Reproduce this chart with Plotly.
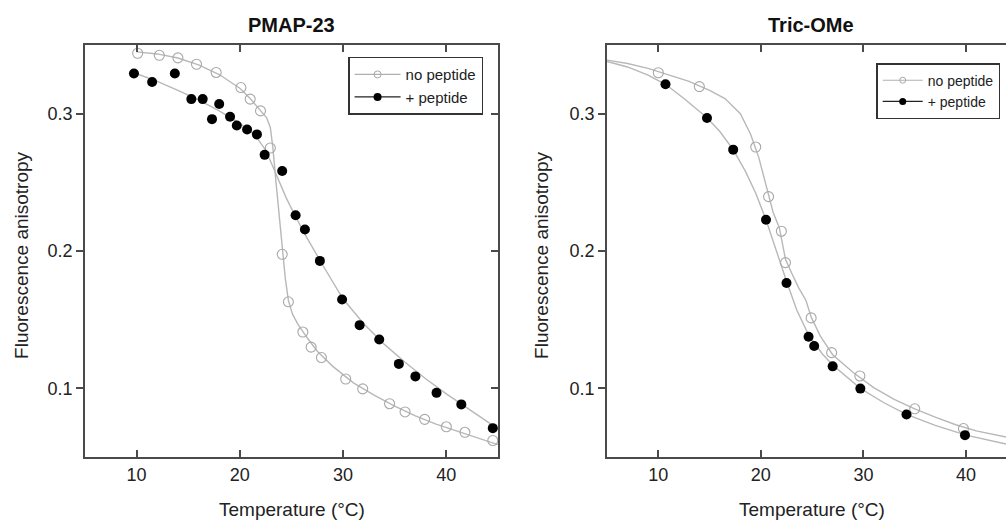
import plotly.graph_objects as go

# ---------------- data ----------------
# PMAP-23 panel
pmap_T_nopep = [10.1, 12.2, 14.0, 15.8, 17.7, 20.1, 21.0, 22.0, 22.95, 24.1, 24.7, 26.1, 26.9,
                27.9, 30.25, 31.9, 34.5, 36.0, 37.9, 40.0, 41.8, 44.5]
pmap_r_nopep = [0.344, 0.3425, 0.3406, 0.336, 0.330, 0.319, 0.3106, 0.302, 0.275, 0.1976, 0.163,
                0.141, 0.130, 0.1224, 0.1068, 0.0996, 0.0888, 0.0828, 0.0774, 0.072, 0.068, 0.062]
pmap_T_pep = [9.74, 11.5, 13.7, 15.3, 16.4, 17.3, 18.0, 19.05, 19.7, 20.7, 21.65, 22.4, 24.1,
              25.4, 26.3, 27.75, 29.9, 31.6, 33.5, 35.4, 37.0, 39.05, 41.45, 44.5]
pmap_r_pep = [0.3293, 0.323, 0.3293, 0.3106, 0.3106, 0.296, 0.307, 0.2978, 0.2914, 0.2885, 0.2849,
              0.270, 0.2582, 0.226, 0.2156, 0.1928, 0.1647, 0.146, 0.1356, 0.1178, 0.1087, 0.0967,
              0.0883, 0.071]
# fitted curves (PMAP-23)
pmap_fitT_nopep = [10, 12, 14, 16, 18, 20, 21, 22, 22.6, 22.95, 23.2, 23.5, 23.8, 24.1, 24.4, 24.7,
                   25.1, 25.6, 26.5, 27.5, 29, 31, 33, 35, 37, 39, 41, 43, 45]
pmap_fitr_nopep = [0.345, 0.3435, 0.3405, 0.3355, 0.3285, 0.3185, 0.311, 0.302, 0.297, 0.290,
                   0.275, 0.250, 0.225, 0.200, 0.180, 0.164, 0.154, 0.147, 0.137, 0.127, 0.116,
                   0.104, 0.095, 0.087, 0.080, 0.074, 0.069, 0.064, 0.059]
pmap_fitT_pep = [9.7, 12, 14, 16, 18, 20, 21.5, 22.5, 23.5, 24.5, 25.5, 26.5, 28, 30, 32, 34, 36,
                 38, 40, 42, 44, 45]
pmap_fitr_pep = [0.330, 0.3235, 0.317, 0.310, 0.302, 0.293, 0.284, 0.2735, 0.256, 0.2385, 0.2235,
                 0.2095, 0.190, 0.165, 0.147, 0.132, 0.119, 0.107, 0.096, 0.086, 0.0755, 0.0705]

# Tric-OMe panel
tric_T_nopep = [10.0, 14.0, 19.5, 20.75, 22.0, 22.4, 24.9, 26.9, 29.65, 35.0, 39.75]
tric_r_nopep = [0.3298, 0.3197, 0.2757, 0.2396, 0.2144, 0.1915, 0.1513, 0.126, 0.109, 0.0851, 0.0707]
tric_T_pep = [10.7, 14.75, 17.3, 20.5, 22.5, 24.65, 25.2, 27.0, 29.7, 34.2, 39.9]
tric_r_pep = [0.3214, 0.2969, 0.2738, 0.2228, 0.1767, 0.1375, 0.1308, 0.116, 0.0998, 0.081, 0.0659]
tric_fitT_nopep = [5, 7, 9, 11, 13, 15, 16.5, 18, 19, 19.8, 20.5, 21.2, 21.8, 22.4, 23.0, 23.7,
                   24.4, 24.9, 25.8, 27, 29, 31, 33, 35, 37, 39, 41, 43.9]
tric_fitr_nopep = [0.339, 0.3365, 0.333, 0.328, 0.3235, 0.317, 0.311, 0.300, 0.285, 0.268, 0.247,
                   0.228, 0.217, 0.194, 0.184, 0.173, 0.164, 0.152, 0.138, 0.1245, 0.1115, 0.1005,
                   0.092, 0.085, 0.079, 0.0735, 0.069, 0.0645]
tric_fitT_pep = [5, 7, 9, 10.7, 12.5, 14.75, 16, 17.3, 18.5, 19.5, 20.5, 21.5, 22.5, 23.5, 24.65,
                 26, 27, 29.7, 32, 34.2, 37, 40, 43.9]
tric_fitr_pep = [0.338, 0.334, 0.328, 0.3214, 0.311, 0.297, 0.287, 0.2738, 0.258, 0.242, 0.2228,
                 0.200, 0.178, 0.157, 0.139, 0.125, 0.117, 0.100, 0.0895, 0.081, 0.073, 0.0659, 0.0595]

titles = ["PMAP-23", "Tric-OMe"]
legend_labels = ["no peptide", "+ peptide"]
x_ticks = [10, 20, 30, 40]
y_ticks = [0.1, 0.2, 0.3]
y_ticktext = ["0.1", "0.2", "0.3"]
x_title = "Temperature (°C)"
y_title = "Fluorescence anisotropy"

# ---------------- styling ----------------
FONT = "Liberation Sans, Arial, Helvetica, sans-serif"
AXC = "#4a4a4a"
CURVE = "#b8b8b8"
OPEN = "#a8a8a8"

fig = go.Figure()

def add_panel(xa, ya, fitT0, fitr0, fitT1, fitr1, T0, r0, T1, r1):
    fig.add_trace(go.Scatter(x=fitT0, y=fitr0, mode="lines", line=dict(color=CURVE, width=1.4),
                             xaxis=xa, yaxis=ya, showlegend=False, hoverinfo="skip"))
    fig.add_trace(go.Scatter(x=fitT1, y=fitr1, mode="lines", line=dict(color=CURVE, width=1.4),
                             xaxis=xa, yaxis=ya, showlegend=False, hoverinfo="skip"))
    fig.add_trace(go.Scatter(x=T0, y=r0, mode="markers",
                             marker=dict(symbol="circle-open", size=10, color=OPEN, line=dict(width=1.1)),
                             xaxis=xa, yaxis=ya, showlegend=False))
    fig.add_trace(go.Scatter(x=T1, y=r1, mode="markers",
                             marker=dict(symbol="circle", size=10, color="black"),
                             xaxis=xa, yaxis=ya, showlegend=False))

add_panel("x", "y", pmap_fitT_nopep, pmap_fitr_nopep, pmap_fitT_pep, pmap_fitr_pep,
          pmap_T_nopep, pmap_r_nopep, pmap_T_pep, pmap_r_pep)
add_panel("x2", "y2", tric_fitT_nopep, tric_fitr_nopep, tric_fitT_pep, tric_fitr_pep,
          tric_T_nopep, tric_r_nopep, tric_T_pep, tric_r_pep)

# legend entries
for leg, ya, xa, msz in [("legend", "y3", "x", 7), ("legend2", "y2", "x2", 6)]:
    fig.add_trace(go.Scatter(x=[None], y=[None], mode="lines+markers", name=legend_labels[0],
                             line=dict(color="#b0b0b0", width=1.2),
                             marker=dict(symbol="circle-open", size=msz, color=OPEN, line=dict(width=1)),
                             xaxis=xa, yaxis=ya, legend=leg))
    fig.add_trace(go.Scatter(x=[None], y=[None], mode="lines+markers", name=legend_labels[1],
                             line=dict(color="#222222", width=1.2),
                             marker=dict(symbol="circle", size=msz + 1, color="black"),
                             xaxis=xa, yaxis=ya, legend=leg))

xcommon = dict(tickvals=x_ticks, ticks="inside", ticklen=7, tickwidth=1.5, tickcolor=AXC,
               showline=True, linecolor=AXC, linewidth=2, mirror="ticks", showgrid=False,
               zeroline=False, tickfont=dict(size=18, color="#222"))
ycommon = dict(tickvals=y_ticks, ticktext=y_ticktext, ticks="outside", ticklen=7, tickwidth=1.5,
               tickcolor=AXC, showline=True, linecolor=AXC, linewidth=2, showgrid=False,
               zeroline=False, range=[0.05, 0.35], domain=[0, 1],
               tickfont=dict(size=18, color="#222"))

fig.update_layout(
    width=1006, height=521,
    margin=dict(l=0, r=0, t=45, b=64),
    paper_bgcolor="white", plot_bgcolor="white",
    font=dict(family=FONT, color="#222"),
    xaxis=dict(domain=[0.0845, 0.495], range=[5, 45], anchor="y", **xcommon),
    yaxis=dict(anchor="x", mirror=True, **ycommon),
    yaxis3=dict(overlaying="y", side="right", anchor="x", range=[0.05, 0.35], tickvals=y_ticks,
                ticks="inside", ticklen=7, tickwidth=1.5, tickcolor=AXC, showticklabels=False,
                showline=False, showgrid=False, zeroline=False),
    xaxis2=dict(domain=[0.6034, 1.0], range=[5, 43.9], anchor="y2", **xcommon),
    yaxis2=dict(anchor="x2", mirror=False, **ycommon),
    legend=dict(x=0.346, y=0.9716, xanchor="left", yanchor="top", bgcolor="white",
                bordercolor="#333", borderwidth=1.5, font=dict(size=15, color="#222"),
                itemwidth=46, tracegroupgap=0),
    legend2=dict(x=0.871, y=0.956, xanchor="left", yanchor="top", bgcolor="white",
                 bordercolor="#333", borderwidth=1.5, font=dict(size=14, color="#222"),
                 itemwidth=40, tracegroupgap=0),
    showlegend=True,
)

ann = []
for xc, t in zip([0.2898, 0.806], titles):
    ann.append(dict(x=xc, y=1.0485, xref="paper", yref="paper", text="<b>%s</b>" % t,
                    showarrow=False, font=dict(size=20, color="#111"), xanchor="center", yanchor="middle"))
for xc in [0.2898, 0.807]:
    ann.append(dict(x=xc, y=-0.1286, xref="paper", yref="paper", text=x_title, showarrow=False,
                    font=dict(size=19, color="#222"), xanchor="center", yanchor="middle"))
for xc in [22 / 1006, 542 / 1006]:
    ann.append(dict(x=xc, y=0.488, xref="paper", yref="paper", text=y_title, showarrow=False,
                    textangle=-90, font=dict(size=19, color="#222"), xanchor="center", yanchor="middle"))
fig.update_layout(annotations=ann)

fig.write_html("out.html", config={"displayModeBar": False},
               post_script="document.body.style.margin='0px';document.body.style.overflow='hidden';")
